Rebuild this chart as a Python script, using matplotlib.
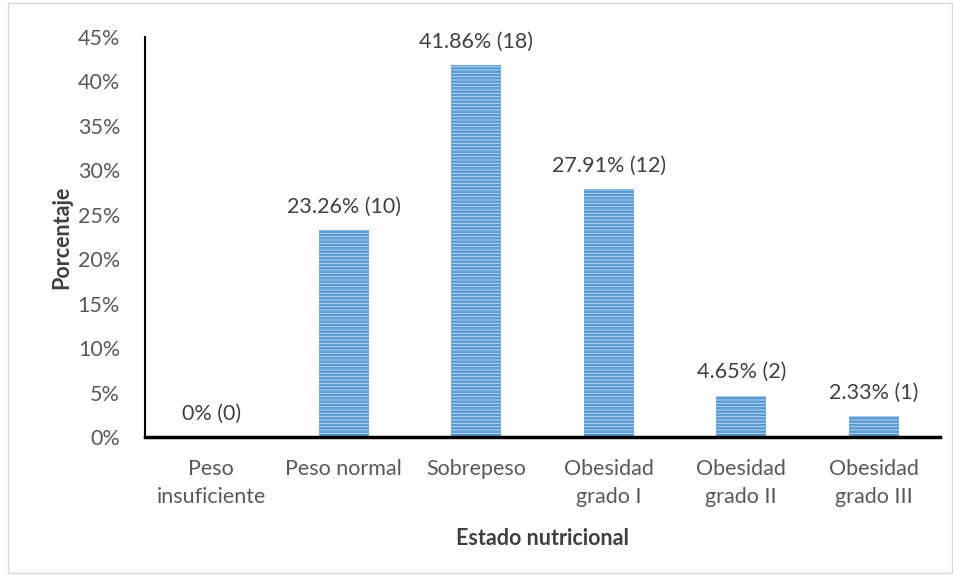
import matplotlib
matplotlib.use("Agg")
import matplotlib.pyplot as plt
from matplotlib.ticker import PercentFormatter
from matplotlib.patches import Rectangle

categories = ["Peso\ninsuficiente", "Peso normal", "Sobrepeso", "Obesidad\ngrado I", "Obesidad\ngrado II", "Obesidad\ngrado III"]
percentages = [0, 23.26, 41.86, 27.91, 4.65, 2.33]
counts = [0, 10, 18, 12, 2, 1]
labels = ["0% (0)", "23.26% (10)", "41.86% (18)", "27.91% (12)", "4.65% (2)", "2.33% (1)"]
yticks = [0, 5, 10, 15, 20, 25, 30, 35, 40, 45]

plt.rcParams['font.family'] = ['Lato', 'DejaVu Sans']
plt.rcParams['hatch.linewidth'] = 1.8
plt.rcParams['hatch.color'] = '#5B9BD5'
grey = '#595959'
fs = 15.5

fig = plt.figure(figsize=(9.54, 5.78), dpi=100)
ax = fig.add_axes([145/954, 1-437/578, 795/954, 400/578])

x = list(range(len(categories)))
ax.bar(x, percentages, width=0.38, color='#C5DCF1', edgecolor='#5B9BD5', hatch='-----', linewidth=0)
for xi, p, lab in zip(x, percentages, labels):
    ax.text(xi, p + 1.5, lab, ha='center', va='bottom', fontsize=fs, color='#404040')

ax.set_xlim(-0.5, 5.5)
ax.set_ylim(0, 45)
ax.set_yticks(yticks)
ax.yaxis.set_major_formatter(PercentFormatter(decimals=0))
ax.set_xticks(x)
ax.set_xticklabels(categories, fontsize=fs, color=grey, linespacing=1.5)
ax.tick_params(axis='y', labelsize=fs, labelcolor=grey, length=0, pad=18)
ax.tick_params(axis='x', length=0, pad=16)
for s in ['top', 'right']:
    ax.spines[s].set_visible(False)
ax.spines['left'].set_linewidth(1.5)
ax.spines['bottom'].set_linewidth(2.5)
ax.spines['left'].set_color('black')
ax.spines['bottom'].set_color('black')

ax.set_ylabel("Porcentaje", fontsize=fs, fontweight='bold', color='#404040', labelpad=4)
ax.set_xlabel("Estado nutricional", fontsize=fs, fontweight='bold', color='#404040', labelpad=15)

fig.patches.append(Rectangle((8/954, 5/578), 944/954, 570/578, transform=fig.transFigure,
                             fill=False, edgecolor='#D9D9D9', linewidth=1))

fig.savefig("out.png", dpi=100)
